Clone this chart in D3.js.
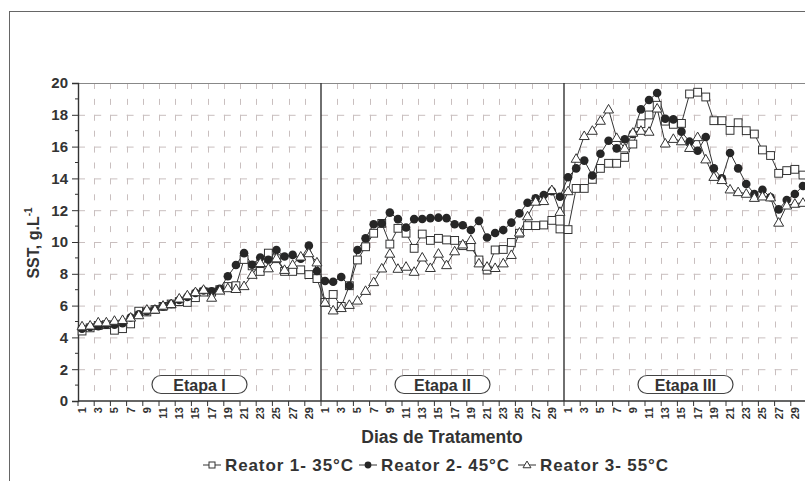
<!DOCTYPE html>
<html><head><meta charset="utf-8">
<script src="https://cdn.jsdelivr.net/npm/d3@7"></script>
<style>
html,body{margin:0;padding:0;background:#fff;}
svg{display:block;}
text{font-family:"Liberation Sans",Arial,sans-serif;font-weight:bold;fill:#333;}
</style></head>
<body>
<script>
// ---- data ----
const stages = ["Etapa I", "Etapa II", "Etapa III"];
const daysPerStage = 30;
const reator1 = [
  4.4, 4.6, 4.75, 4.8, 4.45, 4.55, 4.85, 5.65, 5.6, 5.75, 5.95, 6.1, 6.25, 6.2, 6.5, 6.85, 6.85, 7.0, 7.2, 7.25, 8.9, 8.5, 8.15, 9.3, 8.95, 8.15, 8.15, 8.25, 7.95, 7.7,
  6.2, 6.7, 5.95, 7.25, 8.87, 9.7, 10.55, 11.17, 9.87, 10.86, 10.55, 9.6, 10.5, 10.1, 10.23, 10.13, 10.1, 9.77, 9.7, 8.87, 8.24, 9.5, 9.53, 9.97, 10.55, 11.03, 11.03, 11.07, 11.36, 10.82,
  10.78, 13.37, 13.37, 13.94, 14.63, 14.95, 14.95, 15.32, 16.16, 17.44, 17.99, 18.6, 17.6, 17.4, 17.46, 19.31, 19.42, 19.12, 17.63, 17.63, 17.02, 17.5, 17.0, 16.79, 15.79, 15.44, 14.32, 14.49, 14.57, 14.21
];
const reator2 = [
  4.55, 4.65, 4.7, 4.8, 4.8, 4.9, 5.25, 5.45, 5.65, 5.75, 5.95, 6.1, 6.35, 6.55, 6.8, 6.95, 6.9, 7.05, 7.85, 8.55, 9.3, 8.57, 9.02, 8.88, 9.5, 9.09, 9.19, 8.95, 9.77, 8.18,
  7.55, 7.5, 7.8, 7.25, 9.5, 10.23, 11.12, 11.17, 11.85, 11.44, 10.91, 11.44, 11.45, 11.5, 11.53, 11.5, 11.12, 11.05, 10.75, 11.33, 10.28, 10.57, 10.75, 11.22, 11.8, 12.47, 12.75, 12.96, 13.2, 12.85,
  14.07, 14.63, 15.12, 14.18, 15.55, 16.37, 15.89, 16.46, 16.8, 18.34, 18.93, 19.37, 17.75, 17.71, 16.94, 16.31, 15.74, 16.6, 14.63, 14.0, 15.6, 14.63, 13.65, 13.02, 13.29, 12.81, 12.05, 12.64, 13.02, 13.52
];
const reator3 = [
  4.7, 4.75, 4.95, 4.95, 5.05, 5.1, 5.25, 5.4, 5.75, 5.75, 6.0, 6.1, 6.45, 6.65, 6.85, 7.0, 6.5, 6.95, 7.1, 7.05, 7.23, 7.94, 8.68, 8.35, 8.98, 8.25, 8.57, 9.09, 9.3, 8.72,
  6.2, 5.7, 5.85, 6.05, 6.32, 6.93, 7.48, 8.34, 9.27, 8.32, 8.45, 8.13, 9.03, 8.37, 9.27, 8.55, 9.42, 9.85, 10.13, 8.66, 8.45, 8.37, 8.66, 9.19, 10.6, 11.62, 12.54, 12.58, 13.27, 11.9,
  13.2, 15.24, 16.67, 17.0, 17.63, 18.34, 16.55, 15.89, 16.88, 17.0, 16.94, 18.4, 16.2, 16.49, 16.34, 15.92, 16.6, 15.2, 14.1, 13.9, 13.31, 13.14, 13.04, 12.78, 12.87, 12.81, 11.22, 12.3, 12.41, 12.47
];
const seriesNames = ["Reator 1- 35°C", "Reator 2- 45°C", "Reator 3- 55°C"];
const yTicks = [0, 2, 4, 6, 8, 10, 12, 14, 16, 18, 20];
const yTitle = "SST, g.L";
const xTitle = "Dias de Tratamento";

// ---- layout ----
const W = 805, H = 481;
const L = 78, R = 807, T = 83, B = 401;
const svg = d3.select("body").append("svg").attr("width", W).attr("height", H);

// outer frame
svg.append("rect").attr("x", 9.5).attr("y", 11.5).attr("width", 900).attr("height", 600)
  .attr("fill", "none").attr("stroke", "#666").attr("stroke-width", 1);

const N = reator1.length;
const idx = d3.range(N);
const x = d3.scalePoint().domain(idx).range([L, R]).padding(0.5);
const step = x.step();
const y = d3.scaleLinear().domain([0, 20]).range([B, T]);

const grid = svg.append("g");
grid.selectAll("line.h").data(yTicks.filter(v => v > 0 && v < 20)).join("line")
  .attr("x1", L).attr("x2", R).attr("y1", d => y(d) + 0.5).attr("y2", d => y(d) + 0.5)
  .attr("stroke", "#c9bfbf").attr("stroke-width", 1).attr("stroke-dasharray", "7,9.2");
const bounds = d3.range(1, N / 2).map(k => L + k * 2 * step).filter((v, k) => (k + 1) % 15 !== 0);
grid.selectAll("line.v").data(bounds).join("line")
  .attr("x1", d => Math.round(d) + 0.5).attr("x2", d => Math.round(d) + 0.5).attr("y1", T).attr("y2", B)
  .attr("stroke", "#c9bfbf").attr("stroke-width", 1).attr("stroke-dasharray", "6,9.9");

svg.append("line").attr("x1", L).attr("x2", R).attr("y1", T + 0.5).attr("y2", T + 0.5)
  .attr("stroke", "#888").attr("stroke-width", 1.2);

[1, 2].forEach(s => {
  const xs = L + s * daysPerStage * step;
  svg.append("line").attr("x1", xs).attr("x2", xs).attr("y1", T).attr("y2", B)
    .attr("stroke", "#333").attr("stroke-width", 1.4);
});

// y axis
const yAxis = svg.append("g").attr("transform", `translate(${L},0)`)
  .call(d3.axisLeft(y).tickValues(yTicks).tickSize(6).tickPadding(4).tickFormat(d3.format("d")));
yAxis.select(".domain").attr("stroke", "#333").attr("stroke-width", 1.4);
yAxis.selectAll(".tick line").attr("stroke", "#333");
yAxis.selectAll(".tick text").style("font-size", "15px").attr("fill", "#333");
svg.append("g").selectAll("line").data(d3.range(1, 20, 2)).join("line")
  .attr("x1", L - 3).attr("x2", L).attr("y1", d => y(d)).attr("y2", d => y(d)).attr("stroke", "#333");

// x axis
svg.append("line").attr("x1", L).attr("x2", R).attr("y1", B).attr("y2", B)
  .attr("stroke", "#333").attr("stroke-width", 1.4);
svg.append("g").selectAll("line").data(d3.range(0, N / 2 + 1).map(k => L + k * 2 * step)).join("line")
  .attr("x1", d => d).attr("x2", d => d).attr("y1", B).attr("y2", B + 5).attr("stroke", "#333");
const labIdx = idx.filter(i => (i % daysPerStage) % 2 === 0);
svg.append("g").selectAll("text").data(labIdx).join("text")
  .attr("transform", d => `translate(${x(d) + 4},${B + 6}) rotate(-90)`)
  .attr("text-anchor", "end").style("font-size", "11px")
  .text(d => (d % daysPerStage) + 1);

// titles
svg.append("text").attr("x", 442).attr("y", 443).attr("text-anchor", "middle")
  .style("font-size", "17.5px").text(xTitle);
const yt = svg.append("text").attr("transform", "translate(39,243) rotate(-90)")
  .attr("text-anchor", "middle").style("font-size", "16px");
yt.append("tspan").text(yTitle);
yt.append("tspan").attr("dy", -7).style("font-size", "10px").text("-1");

// stage labels
stages.forEach((s, k) => {
  const cx = L + (k + 0.5) * daysPerStage * step;
  svg.append("rect").attr("x", cx - 47.5).attr("y", 375.5).attr("width", 95).attr("height", 18)
    .attr("rx", 9).attr("fill", "#fff").attr("stroke", "#444").attr("stroke-width", 1.2);
  svg.append("text").attr("x", cx).attr("y", 390.5).attr("text-anchor", "middle")
    .style("font-size", "16px").text(s);
});

// series
const series = [reator1, reator2, reator3];
const line = d3.line().x((d, i) => x(i)).y(d => y(d));
function marker(g, k, cx, cy, s) {
  if (k === 0) {
    g.append("rect").attr("x", cx - s).attr("y", cy - s).attr("width", 2 * s).attr("height", 2 * s)
      .attr("fill", "#fff").attr("stroke", "#333").attr("stroke-width", 1);
  } else if (k === 1) {
    g.append("circle").attr("cx", cx).attr("cy", cy).attr("r", s + 0.4).attr("fill", "#262626");
  } else {
    const h = s * 1.15;
    g.append("path").attr("d", `M${cx},${cy - h - 0.5}L${cx + h + 0.5},${cy + h * 0.8}L${cx - h - 0.5},${cy + h * 0.8}Z`)
      .attr("fill", "#fff").attr("stroke", "#333").attr("stroke-width", 1);
  }
}
series.forEach((data) => {
  svg.append("path").datum(data).attr("d", line).attr("fill", "none")
    .attr("stroke", "#333").attr("stroke-width", 1);
});
series.forEach((data, k) => {
  const g = svg.append("g");
  data.forEach((v, i) => marker(g, k, x(i), y(v), 3.9));
});

// legend
const legX = [203, 359, 518];
seriesNames.forEach((nm, k) => {
  const g = svg.append("g");
  g.append("line").attr("x1", legX[k]).attr("x2", legX[k] + 18).attr("y1", 465).attr("y2", 465)
    .attr("stroke", "#333").attr("stroke-width", 1);
  marker(g, k, legX[k] + 9, 465, 3);
  g.append("text").attr("x", legX[k] + 22).attr("y", 471).style("font-size", "17px")
    .attr("textLength", 128).attr("lengthAdjust", "spacing").text(nm);
});
</script>
</body></html>
